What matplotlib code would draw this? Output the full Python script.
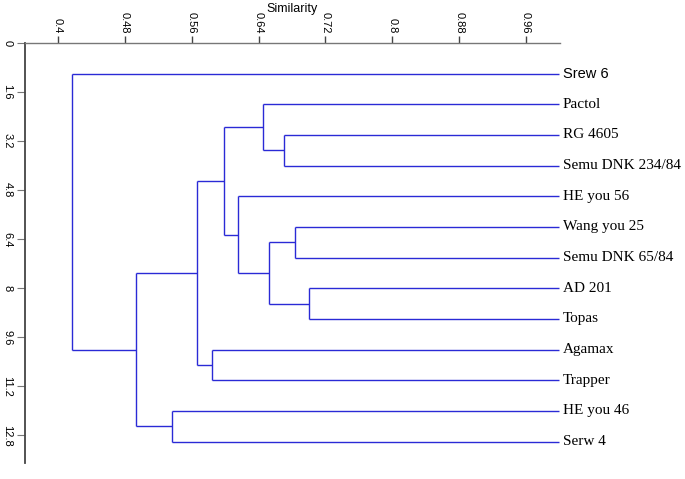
import matplotlib
matplotlib.use("Agg")
import matplotlib.pyplot as plt

# Leaf labels (top to bottom)
leaves = ["Srew 6", "Pactol", "RG 4605", "Semu DNK 234/84", "HE you 56",
          "Wang you 25", "Semu DNK 65/84", "AD 201", "Topas", "Agamax",
          "Trapper", "HE you 46", "Serw 4"]
leaf_similarity = 1.0

# Merges: (child a, child b, similarity); new nodes numbered from len(leaves)
merge_a = [2, 1, 5, 7, 15, 4, 14, 9, 19, 11, 21, 0]
merge_b = [3, 13, 6, 8, 16, 17, 18, 10, 20, 12, 22, 23]
merge_sim = [0.671, 0.6455, 0.684, 0.7005, 0.6527, 0.6155, 0.599, 0.5848,
             0.5665, 0.5365, 0.4935, 0.4168]

xticks = [0.4, 0.48, 0.56, 0.64, 0.72, 0.8, 0.88, 0.96]
xtick_labels = ["0.4", "0.48", "0.56", "0.64", "0.72", "0.8", "0.88", "0.96"]
yticks = [0, 1.6, 3.2, 4.8, 6.4, 8, 9.6, 11.2, 12.8]
ytick_labels = ["0", "1.6", "3.2", "4.8", "6.4", "8", "9.6", "11.2", "12.8"]

W, H = 685, 479
fig = plt.figure(figsize=(W / 100, H / 100), dpi=100)
ax = fig.add_axes([25 / W, 1 - 463 / H, (560 - 25) / W, (463 - 43) / H])

color = "#2a2ad6"
lw = 1.0

# node positions
xs = {}
ys = {}
for i, name in enumerate(leaves):
    xs[i] = leaf_similarity
    ys[i] = i + 1
n = len(leaves)
for k, (a, b, s) in enumerate(zip(merge_a, merge_b, merge_sim)):
    node = n + k
    xs[node] = s
    ys[node] = (ys[a] + ys[b]) / 2
    # vertical connector
    ax.plot([s, s], [ys[a], ys[b]], color=color, lw=lw, solid_capstyle="butt")
    # horizontal branches to children
    for c in (a, b):
        ax.plot([s, xs[c]], [ys[c], ys[c]], color=color, lw=lw,
                solid_capstyle="butt", clip_on=False)

# leaf labels
for i, name in enumerate(leaves):
    if name == "Srew 6":
        ax.text(leaf_similarity + 0.004, ys[i], name, fontsize=10.5,
                family="Liberation Sans", va="center", ha="left", clip_on=False)
    else:
        ax.text(leaf_similarity + 0.004, ys[i], name, fontsize=11,
                family="Liberation Serif", va="center", ha="left", clip_on=False)

ax.set_xlim(0.3605, 1.0007)
ax.set_ylim(13.7, 0)

ax.xaxis.tick_top()
ax.xaxis.set_label_position("top")
ax.set_xticks(xticks)
ax.set_xticklabels(xtick_labels, rotation=-90, fontsize=8, family="Liberation Sans")
ax.set_yticks(yticks)
ax.set_yticklabels(ytick_labels, rotation=-90, fontsize=8, family="Liberation Sans",
                   va="center")
ax.tick_params(axis="x", direction="out", length=5, width=1, color="#444", pad=2)
ax.tick_params(axis="y", direction="out", length=6, width=0.8, color="#777", pad=3)
ax.set_xlabel("Similarity", fontsize=9, family="Liberation Sans", va="center")
ax.xaxis.set_label_coords(0.5, 1 + (43 - 9) / 420)

for side in ("right", "bottom"):
    ax.spines[side].set_visible(False)
ax.spines["top"].set_color("#777")
ax.spines["top"].set_linewidth(1.0)
ax.spines["left"].set_color("#444")
ax.spines["left"].set_linewidth(1.3)

fig.savefig("out.png", dpi=100)
